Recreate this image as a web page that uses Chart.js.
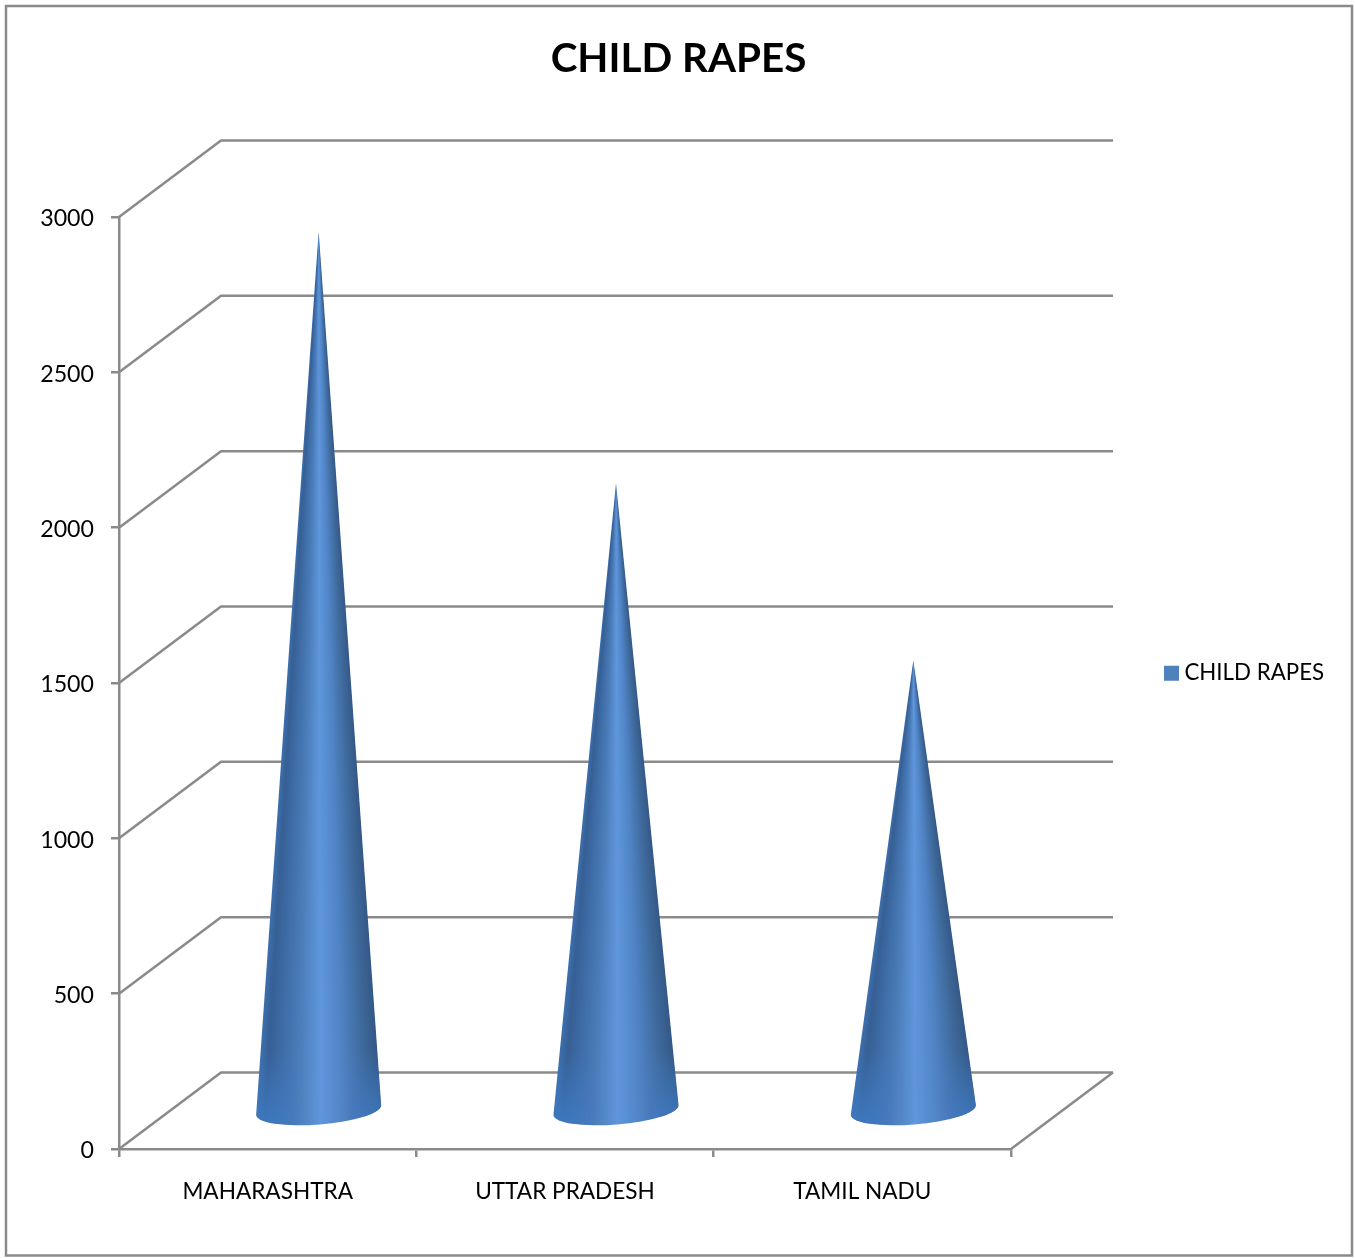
<!DOCTYPE html>
<html>
<head>
<meta charset="utf-8">
<title>CHILD RAPES</title>
<style>
  html, body { margin: 0; padding: 0; background: #ffffff; }
  canvas { display: block; }
</style>
<script src="https://cdn.jsdelivr.net/npm/chart.js@4"></script>
</head>
<body>
<canvas id="chart" width="1355" height="1258"></canvas>
<script>
const chartTitle = 'CHILD RAPES';
const categories = ['MAHARASHTRA', 'UTTAR PRADESH', 'TAMIL NADU'];
const seriesName = 'CHILD RAPES';
const seriesValues = [2830, 2020, 1450];
const axisMin = 0;
const axisMax = 3000;
const axisStep = 500;

const FONT = 'Lato, Carlito, Calibri, sans-serif';
const LINE = '#8a8a8a';
const LINE_WIDTH = 2.5;
const LEGEND_BLUE = '#4F81BD';

// Offset from the front plane of the 3D box to its back plane.
const DEPTH = { x: 102, y: -76.5 };

// Colour bands across a cone, left silhouette (0) to right silhouette (1).
const CONE_BANDS = [
  [0.00, '#3d70ae'], [0.07, '#365f94'], [0.19, '#3f6da8'], [0.33, '#4a7db9'],
  [0.51, '#5f96dc'], [0.70, '#4f83c4'], [0.87, '#3f6a9c'], [1.00, '#345887']
];

// Walls of the 3D box: diagonals on the side wall and floor, lines across the back.
const boxPlugin = {
  id: 'box3d',
  beforeDatasetsDraw(chart) {
    const { ctx, scales: { x, y } } = chart;
    ctx.save();
    ctx.strokeStyle = LINE;
    ctx.lineWidth = LINE_WIDTH;
    ctx.lineJoin = 'round';
    ctx.beginPath();
    y.ticks.forEach(t => {
      const py = y.getPixelForValue(t.value);
      ctx.moveTo(x.left, py);
      ctx.lineTo(x.left + DEPTH.x, py + DEPTH.y);
      ctx.lineTo(x.right + DEPTH.x, py + DEPTH.y);
    });
    ctx.moveTo(x.right, y.bottom);
    ctx.lineTo(x.right + DEPTH.x, y.bottom + DEPTH.y);
    ctx.stroke();
    ctx.restore();
  }
};

// Draws each bar element as a shaded cone standing mid-way through the box depth.
const conePlugin = {
  id: 'cones',
  beforeDatasetDraw(chart, args) {
    const ctx = chart.ctx;
    args.meta.data.forEach(bar => {
      const cx = bar.x + DEPTH.x / 2;
      const tipY = bar.y + DEPTH.y / 2;
      const baseY = bar.base + DEPTH.y / 2 + 0.5;
      const rx = bar.width / 2;
      const ry = 14.5;
      const tilt = -0.08;
      const rightX = cx + rx * Math.cos(tilt), rightY = baseY + rx * Math.sin(tilt);
      const leftX = cx - rx * Math.cos(tilt), leftY = baseY - rx * Math.sin(tilt);

      const angR = Math.atan2(rightY - tipY, rightX - cx);
      const angL = Math.atan2(leftY - tipY, leftX - cx);
      const span = (angL - angR) / (2 * Math.PI);
      const shade = ctx.createConicGradient(angR, cx, tipY);
      CONE_BANDS.slice().reverse().forEach(([u, colour]) => {
        shade.addColorStop((1 - u) * span, colour);
      });

      ctx.save();
      ctx.beginPath();
      ctx.moveTo(cx, tipY);
      ctx.lineTo(rightX, rightY);
      ctx.ellipse(cx, baseY, rx, ry, tilt, 0, Math.PI);
      ctx.closePath();
      ctx.fillStyle = shade;
      ctx.fill();

      // Reflected light lifts the dark flanks at the foot of the cone, leaving the highlight alone.
      const glow = ctx.createLinearGradient(0, baseY - 60, 0, baseY + ry);
      glow.addColorStop(0, 'rgba(62,120,190,0)');
      glow.addColorStop(1, 'rgba(62,120,190,1)');
      ctx.globalCompositeOperation = 'lighten';
      ctx.fillStyle = glow;
      ctx.fill();
      ctx.restore();
    });
    return false;
  }
};

// Fixes the frame around the chart and the legend's spot to the right of the box.
const framePlugin = {
  id: 'frame',
  beforeLayout(chart) {
    chart.legend.fit = function () {
      Object.getPrototypeOf(this).fit.call(this);
      this.width = 344;
    };
  },
  afterLayout(chart) {
    const lg = chart.legend;
    const pad = lg.options.labels.padding;
    lg.left = 1169.75 - pad;
    lg.top = 662 - pad;
    chart.titleBlock.left += 1;
    chart.titleBlock.right += 1;
  },
  beforeDraw(chart) {
    const ctx = chart.ctx;
    ctx.save();
    ctx.fillStyle = '#ffffff';
    ctx.fillRect(0, 0, chart.width, chart.height);
    ctx.strokeStyle = LINE;
    ctx.lineWidth = LINE_WIDTH;
    ctx.strokeRect(6, 6, 1346, 1249.5);
    ctx.restore();
  }
};

const axisGrid = {
  drawOnChartArea: false,
  drawTicks: true,
  tickLength: 8,
  tickColor: LINE,
  tickWidth: LINE_WIDTH,
  lineWidth: LINE_WIDTH,
  color: LINE
};
const axisBorder = { display: true, color: LINE, width: LINE_WIDTH };

new Chart(document.getElementById('chart'), {
  type: 'bar',
  data: {
    labels: categories,
    datasets: [{
      label: seriesName,
      data: seriesValues,
      backgroundColor: LEGEND_BLUE,
      categoryPercentage: 1,
      barPercentage: 0.422
    }]
  },
  plugins: [framePlugin, boxPlugin, conePlugin],
  options: {
    responsive: false,
    animation: false,
    events: [],
    layout: { padding: 0 },
    plugins: {
      tooltip: { enabled: false },
      title: {
        display: true,
        text: chartTitle,
        color: '#000000',
        font: { family: FONT, size: 40.4, weight: 'bold', lineHeight: 1 },
        padding: { top: 38.5, bottom: 138.1 }
      },
      legend: {
        position: 'right',
        align: 'start',
        labels: {
          color: '#000000',
          font: { family: FONT, size: 22.3 },
          usePointStyle: true,
          pointStyle: 'rect',
          boxWidth: 3.5,
          boxHeight: 15,
          padding: 10
        }
      }
    },
    scales: {
      x: {
        type: 'category',
        offset: true,
        afterFit(scale) { scale.height = 109; },
        grid: { ...axisGrid, offset: true },
        border: axisBorder,
        ticks: {
          color: '#000000',
          padding: 21,
          maxRotation: 0,
          font: { family: FONT, size: 22.6 }
        }
      },
      y: {
        type: 'linear',
        min: axisMin,
        max: axisMax,
        afterFit(scale) { scale.width = 119; },
        grid: axisGrid,
        border: axisBorder,
        ticks: {
          stepSize: axisStep,
          color: '#000000',
          padding: 17,
          labelOffset: 2,
          format: { useGrouping: false },
          font: { family: FONT, size: 23.2 }
        }
      }
    }
  }
});
</script>
</body>
</html>
